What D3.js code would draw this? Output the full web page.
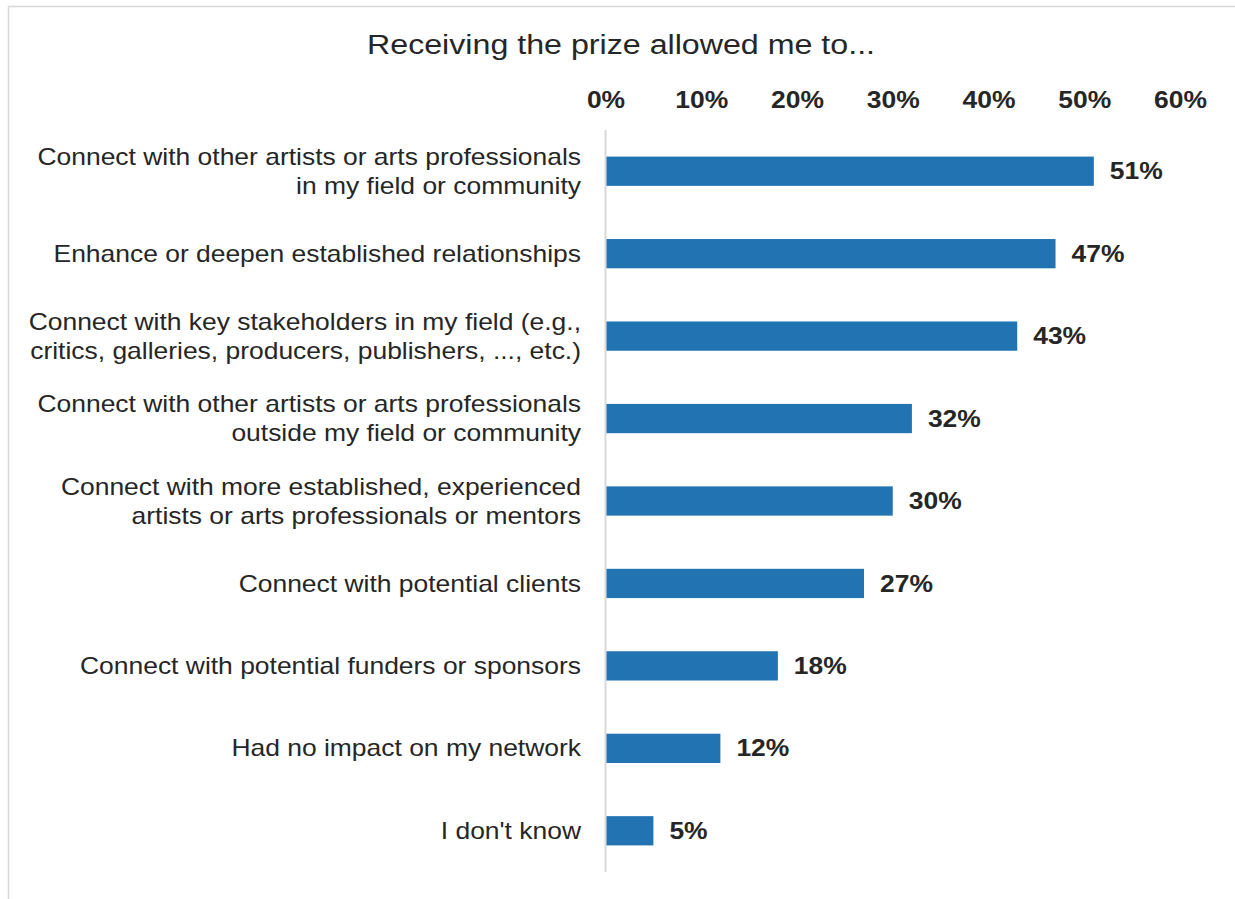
<!DOCTYPE html>
<html>
<head>
<meta charset="utf-8">
<script src="https://cdn.jsdelivr.net/npm/d3@7"></script>
<style>
  html, body { margin: 0; padding: 0; background: #fff; }
  svg { display: block; }
  text { font-family: "Liberation Sans", Arial, sans-serif; }
</style>
</head>
<body>
<script>
// Survey responses: what receiving the prize made possible
const categories = [
  ["Connect with other artists or arts professionals", "in my field or community"],
  ["Enhance or deepen established relationships"],
  ["Connect with key stakeholders in my field (e.g.,", "critics, galleries, producers, publishers, ..., etc.)"],
  ["Connect with other artists or arts professionals", "outside my field or community"],
  ["Connect with more established, experienced", "artists or arts professionals or mentors"],
  ["Connect with potential clients"],
  ["Connect with potential funders or sponsors"],
  ["Had no impact on my network"],
  ["I don't know"]
];
const values = [51, 47, 43, 32, 30, 27, 18, 12, 5];
const tickValues = [0, 10, 20, 30, 40, 50, 60];
const title = "Receiving the prize allowed me to...";

const W = 1235, H = 899;
// text is set slightly wide
const SX = 1.15;
const ink = "#262626";

const svg = d3.select("body").append("svg").attr("width", W).attr("height", H);

// outer frame
svg.append("line").attr("x1", 8).attr("x2", W).attr("y1", 6.5).attr("y2", 6.5)
  .attr("stroke", "#d9d9d9").attr("stroke-width", 1.5);
svg.append("line").attr("x1", 8.5).attr("x2", 8.5).attr("y1", 6).attr("y2", H)
  .attr("stroke", "#d9d9d9").attr("stroke-width", 1.5);

const x = d3.scaleLinear().domain([0, 60]).range([605.5, 1180]);
const y = d3.scaleBand().domain(d3.range(categories.length)).range([130, 872])
  .paddingInner(0.645).paddingOuter(0.3225);

function wideText(px, py, anchor, size, weight) {
  return svg.append("g").attr("transform", `translate(${px},${py}) scale(${SX},1)`)
    .append("text").attr("text-anchor", anchor).attr("font-size", size)
    .attr("font-weight", weight).attr("fill", ink);
}

wideText(621, 54, "middle", 28, "normal").text(title);

// top axis
const axis = d3.axisTop(x).tickValues(tickValues).tickFormat(d => d + "%").tickSize(0).tickPadding(0);
const ag = svg.append("g").attr("transform", "translate(0,108)").call(axis);
ag.select(".domain").remove();
ag.selectAll("text").attr("font-size", 23).attr("font-weight", "bold").attr("fill", ink)
  .attr("transform", `scale(${SX},1)`)
  .style("font-family", "'Liberation Sans', Arial, sans-serif");

// vertical baseline
svg.append("line").attr("x1", x(0)).attr("x2", x(0)).attr("y1", 130).attr("y2", 872)
  .attr("stroke", "#d9d9d9").attr("stroke-width", 2);

// bars
svg.selectAll("rect.bar").data(values).enter().append("rect").attr("class", "bar")
  .attr("x", x(0) + 1).attr("y", (d, i) => y(i))
  .attr("width", d => x(d) - x(0) - 1).attr("height", y.bandwidth())
  .attr("fill", "#2173b1");

// value labels
values.forEach((d, i) => {
  wideText(x(d) + 16, y(i) + y.bandwidth() / 2, "start", 23, "bold")
    .attr("dy", "0.35em").text(d + "%");
});

// category labels
const lineH = 29;
categories.forEach((lines, i) => {
  const cy = y(i) + y.bandwidth() / 2;
  const t = wideText(581, cy, "end", 23, "normal");
  lines.forEach((ln, k) => {
    t.append("tspan").attr("x", 0)
      .attr("y", (k - (lines.length - 1) / 2) * lineH)
      .attr("dy", "0.35em").text(ln);
  });
});
</script>
</body>
</html>
